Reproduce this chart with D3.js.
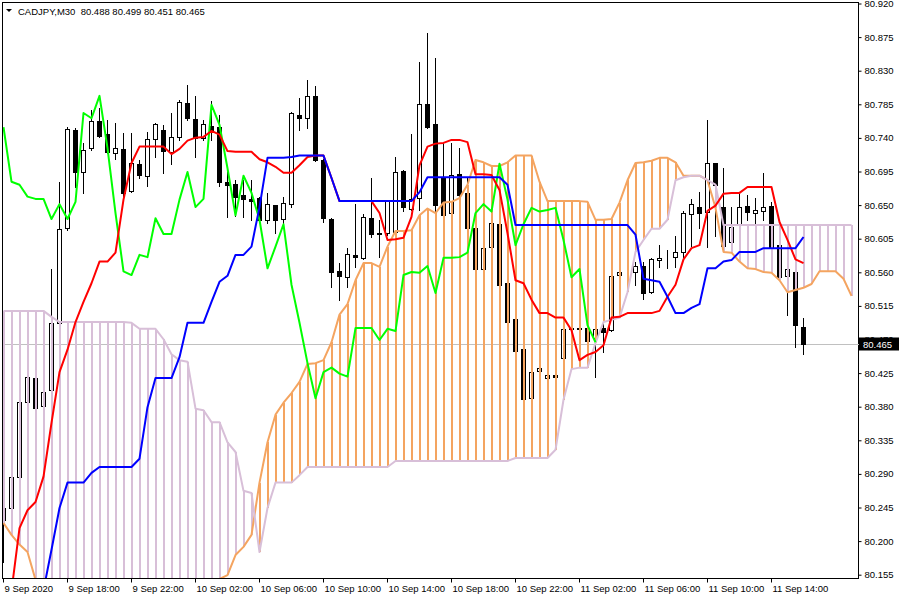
<!DOCTYPE html>
<html><head><meta charset="utf-8">
<script src="https://cdn.jsdelivr.net/npm/d3@7"></script>
<style>
html,body{margin:0;padding:0;background:#fff;}
svg{display:block;}
text{font-family:"Liberation Sans",Arial,sans-serif;}
</style></head><body>
<svg id="chart" width="900" height="600"></svg>
<script>
const symbolName = "CADJPY,M30";

const tickLabels = ["9 Sep 2020","9 Sep 18:00","9 Sep 22:00","10 Sep 02:00","10 Sep 06:00","10 Sep 10:00","10 Sep 14:00","10 Sep 18:00","10 Sep 22:00","11 Sep 02:00","11 Sep 06:00","11 Sep 10:00","11 Sep 14:00"];
const tickBars = [0,8,16,24,32,40,48,56,64,72,80,88,96];
const priceTicks = [80.920,80.875,80.830,80.785,80.740,80.695,80.650,80.605,80.560,80.515,80.470,80.425,80.380,80.335,80.290,80.245,80.200,80.155];

const openP = [
80.229,80.245,80.287,80.387,80.419,80.382,80.403,80.493,80.620,80.751,
80.695,80.727,80.763,80.746,80.720,80.726,80.670,80.706,80.690,80.739,
80.751,80.722,80.742,80.787,80.766,80.741,80.757,80.755,80.682,80.679,
80.664,80.659,80.660,80.631,80.651,80.632,80.652,80.771,80.767,80.797,
80.711,80.632,80.562,80.554,80.584,80.580,80.633,80.613,80.613,80.615,
80.696,80.646,80.660,80.786,80.759,80.687,80.640,80.692,80.667,80.620,
80.565,80.595,80.625,80.546,80.498,80.458,80.392,80.429,80.419,80.423,
80.446,80.486,80.485,80.486,80.473,80.486,80.483,80.557,80.561,80.561,
80.569,80.534,80.577,80.580,80.581,80.588,80.639,80.648,80.642,80.707,
80.648,80.601,80.625,80.650,80.640,80.643,80.650,80.597,80.556,80.561,
80.488];
const highP = [
80.249,80.291,80.392,80.423,80.425,80.406,80.565,80.682,80.755,80.754,
80.734,80.778,80.781,80.765,80.761,80.747,80.747,80.711,80.749,80.761,
80.758,80.774,80.792,80.812,80.797,80.765,80.790,80.771,80.698,80.684,
80.684,80.684,80.662,80.667,80.651,80.662,80.775,80.794,80.818,80.810,
80.712,80.633,80.573,80.593,80.652,80.639,80.687,80.631,80.658,80.715,
80.698,80.746,80.842,80.881,80.848,80.734,80.734,80.727,80.687,80.620,
80.593,80.628,80.627,80.546,80.500,80.459,80.429,80.434,80.425,80.425,
80.486,80.487,80.487,80.487,80.487,80.497,80.557,80.562,80.562,80.575,
80.575,80.580,80.597,80.591,80.609,80.643,80.659,80.668,80.765,80.707,
80.700,80.648,80.667,80.664,80.660,80.694,80.655,80.597,80.587,80.566,
80.499];
const lowP = [
80.173,80.240,80.283,80.383,80.376,80.376,80.400,80.489,80.617,80.675,
80.667,80.725,80.742,80.720,80.712,80.662,80.668,80.687,80.676,80.715,
80.694,80.706,80.738,80.765,80.715,80.738,80.738,80.676,80.635,80.636,
80.635,80.631,80.628,80.627,80.613,80.627,80.648,80.751,80.754,80.710,
80.628,80.541,80.524,80.541,80.568,80.578,80.608,80.581,80.611,80.613,
80.643,80.644,80.644,80.754,80.640,80.637,80.639,80.663,80.619,80.564,
80.564,80.593,80.542,80.492,80.454,80.390,80.391,80.427,80.418,80.419,
80.445,80.483,80.483,80.467,80.421,80.454,80.482,80.556,80.560,80.544,
80.525,80.533,80.568,80.566,80.568,80.581,80.596,80.620,80.595,80.609,
80.596,80.600,80.624,80.631,80.627,80.631,80.591,80.550,80.504,80.461,
80.451];
const closeP = [
80.245,80.287,80.387,80.421,80.379,80.400,80.493,80.619,80.753,80.695,
80.725,80.763,80.743,80.722,80.727,80.667,80.707,80.691,80.739,80.759,
80.723,80.742,80.789,80.767,80.741,80.759,80.750,80.682,80.678,80.662,
80.659,80.656,80.631,80.652,80.631,80.654,80.774,80.767,80.797,80.711,
80.633,80.561,80.556,80.585,80.581,80.635,80.612,80.612,80.656,80.695,
80.648,80.659,80.786,80.755,80.651,80.637,80.691,80.664,80.620,80.565,
80.593,80.627,80.544,80.494,80.455,80.391,80.427,80.433,80.423,80.421,
80.485,80.485,80.486,80.469,80.485,80.481,80.556,80.561,80.561,80.569,
80.533,80.578,80.580,80.580,80.588,80.640,80.652,80.640,80.707,80.678,
80.596,80.621,80.648,80.642,80.644,80.648,80.593,80.554,80.565,80.490,
80.465];

const tenkan = [
80.122,80.134,80.218,80.242,80.253,80.287,80.359,80.427,80.457,80.494,
80.521,80.546,80.575,80.575,80.587,80.658,80.707,80.729,80.729,80.729,
80.729,80.719,80.726,80.737,80.741,80.742,80.750,80.745,80.723,80.722,
80.722,80.722,80.712,80.708,80.702,80.694,80.694,80.704,80.715,80.717,
80.717,80.687,80.656,80.656,80.656,80.656,80.656,80.640,80.604,80.605,
80.607,80.635,80.704,80.729,80.733,80.734,80.738,80.738,80.735,80.692,
80.692,80.691,80.671,80.613,80.550,80.546,80.524,80.506,80.506,80.500,
80.500,80.483,80.443,80.450,80.454,80.463,80.500,80.501,80.506,80.506,
80.506,80.506,80.509,80.528,80.544,80.578,80.593,80.597,80.643,80.650,
80.666,80.667,80.667,80.675,80.675,80.675,80.675,80.628,80.604,80.578,
80.573];
const kijun = [
80.120,80.120,80.120,80.120,80.120,80.135,80.189,80.245,80.279,80.279,
80.279,80.292,80.300,80.300,80.300,80.300,80.300,80.311,80.380,80.419,
80.419,80.419,80.447,80.493,80.493,80.493,80.521,80.548,80.556,80.584,
80.584,80.595,80.648,80.714,80.714,80.714,80.715,80.717,80.717,80.717,
80.717,80.687,80.656,80.656,80.656,80.656,80.656,80.656,80.656,80.656,
80.656,80.656,80.668,80.688,80.688,80.688,80.688,80.688,80.688,80.688,
80.688,80.688,80.688,80.678,80.624,80.624,80.624,80.624,80.624,80.624,
80.624,80.624,80.624,80.624,80.624,80.624,80.624,80.624,80.624,80.611,
80.552,80.550,80.548,80.528,80.506,80.506,80.513,80.518,80.566,80.566,
80.575,80.577,80.588,80.588,80.588,80.593,80.593,80.593,80.593,80.593,
80.608];
const chikou = [
80.755,80.682,80.678,80.662,80.659,80.659,80.632,80.652,80.632,80.655,
80.774,80.767,80.797,80.727,80.640,80.562,80.557,80.584,80.581,80.633,
80.612,80.612,80.658,80.695,80.648,80.659,80.785,80.758,80.700,80.637,
80.690,80.667,80.631,80.566,80.595,80.625,80.544,80.493,80.439,80.392,
80.427,80.433,80.425,80.421,80.486,80.486,80.486,80.470,80.485,80.482,
80.557,80.561,80.560,80.569,80.533,80.580,80.580,80.581,80.587,80.640,
80.652,80.642,80.706,80.658,80.597,80.625,80.647,80.642,80.644,80.647,
80.604,80.554,80.565,80.490,80.467];
const spanA = [
80.225,80.209,80.196,80.186,80.149,80.130,80.120,80.110,80.100,80.100,
80.090,80.090,80.090,80.090,80.100,80.100,80.100,80.110,80.110,80.120,
80.120,80.130,80.130,80.140,80.140,80.140,80.150,80.150,80.155,80.182,
80.193,80.209,80.279,80.333,80.370,80.386,80.399,80.414,80.438,80.439,
80.443,80.467,80.504,80.518,80.550,80.573,80.573,80.568,80.595,80.616,
80.616,80.617,80.637,80.646,80.640,80.654,80.655,80.660,80.678,80.711,
80.708,80.703,80.703,80.708,80.717,80.717,80.717,80.682,80.656,80.656,
80.656,80.656,80.656,80.655,80.631,80.631,80.632,80.654,80.684,80.707,
80.708,80.710,80.714,80.714,80.708,80.690,80.690,80.690,80.684,80.647,
80.588,80.587,80.575,80.566,80.565,80.561,80.560,80.550,80.534,80.537,
80.540,80.545,80.562,80.562,80.562,80.552,80.529];
const spanB = [
80.509,80.509,80.509,80.509,80.509,80.509,80.501,80.494,80.494,80.494,
80.494,80.494,80.494,80.494,80.494,80.494,80.493,80.485,80.485,80.485,
80.471,80.451,80.443,80.441,80.378,80.376,80.360,80.360,80.333,80.320,
80.268,80.265,80.186,80.245,80.279,80.279,80.279,80.289,80.300,80.300,
80.300,80.300,80.300,80.300,80.300,80.300,80.300,80.300,80.300,80.308,
80.308,80.308,80.308,80.308,80.308,80.308,80.308,80.308,80.308,80.308,
80.308,80.308,80.308,80.308,80.312,80.312,80.312,80.312,80.312,80.323,
80.390,80.431,80.433,80.433,80.466,80.494,80.497,80.500,80.534,80.588,
80.604,80.619,80.619,80.631,80.684,80.688,80.690,80.690,80.684,80.678,
80.624,80.624,80.624,80.624,80.624,80.624,80.624,80.624,80.624,80.624,
80.624,80.624,80.624,80.624,80.624,80.624,80.624];

const svg = d3.select("#chart");
const x = d3.scaleLinear().domain([0, 106]).range([3.5, 851.5]);
const y = d3.scaleLinear().domain([80.15125, 80.92268]).range([578, 2]);

svg.append("rect").attr("width",900).attr("height",600).attr("fill","#fff");
svg.append("defs").append("clipPath").attr("id","plotclip")
  .append("rect").attr("x",3).attr("y",3).attr("width",855).attr("height",575);

const plot = svg.append("g").attr("clip-path","url(#plotclip)");
const last = closeP.length - 1;
const py = Math.round(y(closeP[last])) + 0.5;

// current price line
plot.append("line").attr("x1",3).attr("x2",858).attr("y1",py).attr("y2",py)
  .attr("stroke","#c0c0c0").attr("stroke-width",1).attr("shape-rendering","crispEdges");

// candles
const idx = d3.range(closeP.length);
const cg = plot.append("g").attr("shape-rendering","crispEdges");
cg.selectAll("line.wick").data(idx).join("line")
  .attr("x1",i=>x(i)).attr("x2",i=>x(i))
  .attr("y1",i=>Math.round(y(highP[i]))).attr("y2",i=>Math.round(y(lowP[i]))+1)
  .attr("stroke","#000").attr("stroke-width",1);
cg.selectAll("rect.body").data(idx).join("rect")
  .attr("x",i=>x(i)-2).attr("width",4)
  .attr("y",i=>Math.round(y(Math.max(openP[i],closeP[i])))+0.5)
  .attr("height",i=>Math.max(0, Math.round(y(Math.min(openP[i],closeP[i]))) - Math.round(y(Math.max(openP[i],closeP[i])))))
  .attr("fill",i=>closeP[i]>=openP[i] ? "#fff" : "#000")
  .attr("stroke","#000").attr("stroke-width",1);

// cloud hatch
const cloudIdx = d3.range(spanA.length);
plot.append("g").attr("shape-rendering","crispEdges")
  .selectAll("rect").data(cloudIdx).join("rect")
  .attr("x",i=>x(i)-0.5).attr("width",2)
  .attr("y",i=>y(Math.max(spanA[i],spanB[i])))
  .attr("height",i=>Math.abs(y(spanA[i])-y(spanB[i])))
  .attr("fill",i=>spanA[i]>=spanB[i] ? "#f4a460" : "#d8bfd8");

const line = d3.line().x((d,i)=>x(i)).y(d=>y(d));
function drawLine(data,color){
  plot.append("path").datum(data).attr("d",line)
    .attr("fill","none").attr("stroke",color).attr("stroke-width",2)
    .attr("stroke-linejoin","round");
}
drawLine(spanA,"#f4a460");
drawLine(spanB,"#d8bfd8");
drawLine(chikou,"#00ff00");
drawLine(tenkan,"#ff0000");
drawLine(kijun,"#0000ff");

// frame
svg.append("rect").attr("x",2.5).attr("y",2.5).attr("width",856).attr("height",576)
  .attr("fill","none").attr("stroke","#000").attr("stroke-width",1);

// y axis
const yAxis = d3.axisRight(y).tickValues(priceTicks).tickFormat(d3.format(".3f"))
  .tickSize(3).tickPadding(3).offset(0);
const yg = svg.append("g").attr("transform","translate(858.5,0)").call(yAxis);
yg.select(".domain").remove();
yg.selectAll("text").attr("font-size","9.5px").attr("fill","#000")
  .attr("font-family","'Liberation Sans',Arial,sans-serif");
yg.selectAll("line").attr("stroke","#000");

// x axis
const xAxis = d3.axisBottom(x).tickValues(tickBars).tickFormat((d,i)=>tickLabels[i])
  .tickSize(4).tickPadding(3).offset(0);
const xg = svg.append("g").attr("transform","translate(0,578.5)").call(xAxis);
xg.select(".domain").remove();
xg.selectAll("text").attr("font-size","9.5px").attr("fill","#000")
  .attr("text-anchor","start").attr("dx","1")
  .attr("font-family","'Liberation Sans',Arial,sans-serif");
xg.selectAll("line").attr("stroke","#000");

// current price label
svg.append("line").attr("x1",858).attr("x2",861).attr("y1",py).attr("y2",py)
  .attr("stroke","#c0c0c0");
svg.append("rect").attr("x",859).attr("y",py-7).attr("width",40).attr("height",13).attr("fill","#000");
svg.append("text").attr("x",863).attr("y",py+3.5).attr("font-size","9.5px").attr("fill","#fff")
  .text(d3.format(".3f")(closeP[last]));

// header
svg.append("path").attr("d","M6,9 L12,9 L9,12 Z").attr("fill","#000");
svg.append("text").attr("x",18).attr("y",14.5).attr("font-size","9.5px").attr("fill","#000")
  .attr("xml:space","preserve")
  .text(symbolName + "  " + [openP[last],highP[last],lowP[last],closeP[last]].map(d3.format(".3f")).join(" "));
</script>
</body></html>
